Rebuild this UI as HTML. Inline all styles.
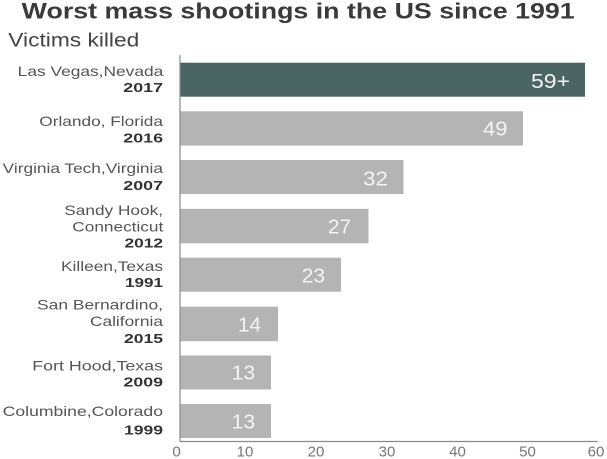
<!DOCTYPE html>
<html>
<head>
<meta charset="utf-8">
<style>
html,body{margin:0;padding:0;background:#fff;}
svg{display:block;}
text{font-family:"Liberation Sans",Arial,sans-serif;}
.loc{font-size:14px;fill:#555;}
.yr{font-size:13px;font-weight:bold;fill:#333;}
.val{font-size:20.5px;fill:#f4f4f4;}
.tick{font-size:15px;fill:#777;}
</style>
</head>
<body>
<svg width="607" height="459" viewBox="0 0 607 459" xmlns="http://www.w3.org/2000/svg">
<rect width="607" height="459" fill="#fff"/>
<text x="21.7" y="18.5" font-size="22" font-weight="bold" fill="#3a3a3a" textLength="553" lengthAdjust="spacingAndGlyphs">Worst mass shootings in the US since 1991</text>
<text x="8.3" y="46.7" font-size="19" fill="#444" textLength="131" lengthAdjust="spacingAndGlyphs">Victims killed</text>

<!-- bars -->
<rect x="180" y="62.7" width="405" height="34" fill="#4a6564"/>
<rect x="180" y="111.3" width="343" height="34.3" fill="#b4b4b4"/>
<rect x="180" y="160" width="223.5" height="34" fill="#b4b4b4"/>
<rect x="180" y="208.8" width="188.5" height="34.5" fill="#b4b4b4"/>
<rect x="180" y="257.7" width="161" height="34" fill="#b4b4b4"/>
<rect x="180" y="306.7" width="98" height="34.5" fill="#b4b4b4"/>
<rect x="180" y="355.5" width="91" height="34" fill="#b4b4b4"/>
<rect x="180" y="404" width="91" height="34" fill="#b4b4b4"/>

<!-- value labels -->
<text class="val" x="531" y="87.8" textLength="39" lengthAdjust="spacingAndGlyphs">59+</text>
<text class="val" x="483" y="135.5" textLength="24.5" lengthAdjust="spacingAndGlyphs">49</text>
<text class="val" x="363" y="185.5" textLength="25" lengthAdjust="spacingAndGlyphs">32</text>
<text class="val" x="328" y="233.5" textLength="23" lengthAdjust="spacingAndGlyphs">27</text>
<text class="val" x="301.7" y="282.5" textLength="23.5" lengthAdjust="spacingAndGlyphs">23</text>
<text class="val" x="238" y="331.5" textLength="23" lengthAdjust="spacingAndGlyphs">14</text>
<text class="val" x="231.7" y="379.5" textLength="23.5" lengthAdjust="spacingAndGlyphs">13</text>
<text class="val" x="231.7" y="428.5" textLength="23.5" lengthAdjust="spacingAndGlyphs">13</text>

<!-- category labels -->
<text class="loc" x="17.7" y="76" textLength="145.6" lengthAdjust="spacingAndGlyphs">Las Vegas,Nevada</text>
<text class="yr" x="123.3" y="92" textLength="39.7" lengthAdjust="spacingAndGlyphs">2017</text>

<text class="loc" x="39.3" y="126" textLength="123.7" lengthAdjust="spacingAndGlyphs">Orlando, Florida</text>
<text class="yr" x="123.3" y="142.3" textLength="39.7" lengthAdjust="spacingAndGlyphs">2016</text>

<text class="loc" x="2.7" y="173" textLength="160.3" lengthAdjust="spacingAndGlyphs">Virginia Tech,Virginia</text>
<text class="yr" x="123.3" y="190" textLength="39.7" lengthAdjust="spacingAndGlyphs">2007</text>

<text class="loc" x="64.3" y="215" textLength="98.7" lengthAdjust="spacingAndGlyphs">Sandy Hook,</text>
<text class="loc" x="72.3" y="231.5" textLength="91" lengthAdjust="spacingAndGlyphs">Connecticut</text>
<text class="yr" x="124.5" y="247.7" textLength="38.5" lengthAdjust="spacingAndGlyphs">2012</text>

<text class="loc" x="61" y="270.8" textLength="102" lengthAdjust="spacingAndGlyphs">Killeen,Texas</text>
<text class="yr" x="125" y="287" textLength="38" lengthAdjust="spacingAndGlyphs">1991</text>

<text class="loc" x="37" y="309.7" textLength="126" lengthAdjust="spacingAndGlyphs">San Bernardino,</text>
<text class="loc" x="90" y="326" textLength="73" lengthAdjust="spacingAndGlyphs">California</text>
<text class="yr" x="124" y="343" textLength="39" lengthAdjust="spacingAndGlyphs">2015</text>

<text class="loc" x="32.3" y="370.5" textLength="130.7" lengthAdjust="spacingAndGlyphs">Fort Hood,Texas</text>
<text class="yr" x="123.5" y="386.5" textLength="39.5" lengthAdjust="spacingAndGlyphs">2009</text>

<text class="loc" x="2.7" y="416" textLength="160.3" lengthAdjust="spacingAndGlyphs">Columbine,Colorado</text>
<text class="yr" x="124" y="434.5" textLength="39" lengthAdjust="spacingAndGlyphs">1999</text>

<!-- axes -->
<line x1="180" y1="55" x2="180" y2="441.5" stroke="#8a8a8a" stroke-width="1.2"/>
<line x1="180" y1="441.5" x2="598" y2="441.5" stroke="#8a8a8a" stroke-width="1.2"/>

<!-- tick labels -->
<text class="tick" x="176.5" y="456.5" text-anchor="middle">0</text>
<text class="tick" x="245" y="456.5" text-anchor="middle">10</text>
<text class="tick" x="316" y="456.5" text-anchor="middle">20</text>
<text class="tick" x="387" y="456.5" text-anchor="middle">30</text>
<text class="tick" x="457.5" y="456.5" text-anchor="middle">40</text>
<text class="tick" x="527.5" y="456.5" text-anchor="middle">50</text>
<text class="tick" x="596" y="456.5" text-anchor="middle">60</text>
</svg>
</body>
</html>
